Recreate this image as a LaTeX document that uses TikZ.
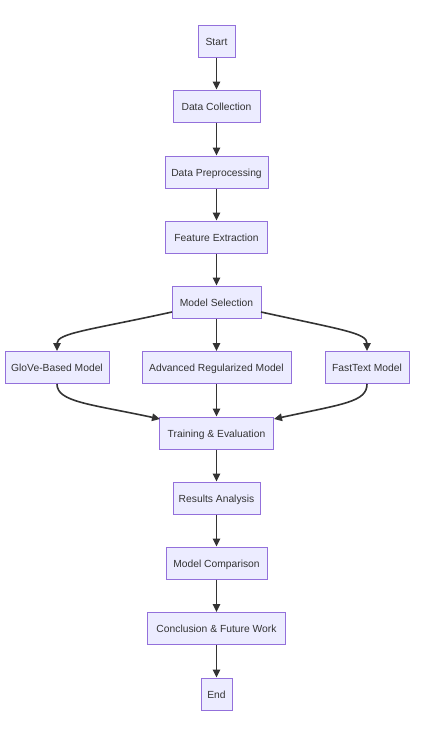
\documentclass[tikz,border=0pt]{standalone}
\usepackage{fontspec}
\setmainfont{Liberation Sans}
\usetikzlibrary{arrows.meta}
\definecolor{boxfill}{HTML}{ECECFF}
\definecolor{boxline}{HTML}{9370DB}
\definecolor{edge}{HTML}{333333}
\begin{document}
\begin{tikzpicture}[x=1pt,y=-1pt,
  box/.style={draw=boxline,fill=boxfill,line width=1pt,minimum height=32pt,inner xsep=2pt,text height=10pt,text depth=2pt,font=\fontsize{10.3}{12}\selectfont,text=edge},
  flow/.style={draw=edge,line width=1.6pt,-{Triangle[length=8pt,width=7.5pt]}}]
\useasboundingbox (0,0) rectangle (429,731);
\fill[white] (0,0) rectangle (429,731);
\node[box,minimum width=37pt] (start) at (216.5,41) {Start};
\node[box,minimum width=87pt] (dc) at (216.5,106) {Data Collection};
\node[box,minimum width=103pt] (dp) at (216.5,172) {Data Preprocessing};
\node[box,minimum width=102pt] (fe) at (216.5,237) {Feature Extraction};
\node[box,minimum width=89pt] (ms) at (216.5,302) {Model Selection};
\node[box,minimum width=104pt] (glove) at (57,367.5) {GloVe-Based Model};
\node[box,minimum width=149pt] (adv) at (216.5,367.5) {Advanced Regularized Model};
\node[box,minimum width=84pt] (fast) at (367,367.5) {FastText Model};
\node[box,minimum width=114pt] (te) at (216.5,433) {Training \& Evaluation};
\node[box,minimum width=87pt] (ra) at (216.5,498) {Results Analysis};
\node[box,minimum width=101pt] (mc) at (216.5,563) {Model Comparison};
\node[box,minimum width=138pt] (cf) at (216.5,628.5) {Conclusion \& Future Work};
\node[box,minimum width=31pt] (end) at (216.5,694) {End};
\coordinate (msl) at (172,312);
\coordinate (msr) at (261,312);
\coordinate (tel) at (160,419);
\coordinate (ter) at (274,419);
\draw[flow] (start) -- (dc);
\draw[flow] (dc) -- (dp);
\draw[flow] (dp) -- (fe);
\draw[flow] (fe) -- (ms);
\draw[flow] (msl) .. controls (90,330) and (57,333) .. (glove.north);
\draw[flow] (ms) -- (adv);
\draw[flow] (msr) .. controls (343,330) and (367,333) .. (fast.north);
\draw[flow] (glove.south) .. controls (57,402) and (90,404) .. (tel);
\draw[flow] (adv) -- (te);
\draw[flow] (fast.south) .. controls (367,402) and (343,404) .. (ter);
\draw[flow] (te) -- (ra);
\draw[flow] (ra) -- (mc);
\draw[flow] (mc) -- (cf);
\draw[flow] (cf) -- (end);
\end{tikzpicture}
\end{document}
